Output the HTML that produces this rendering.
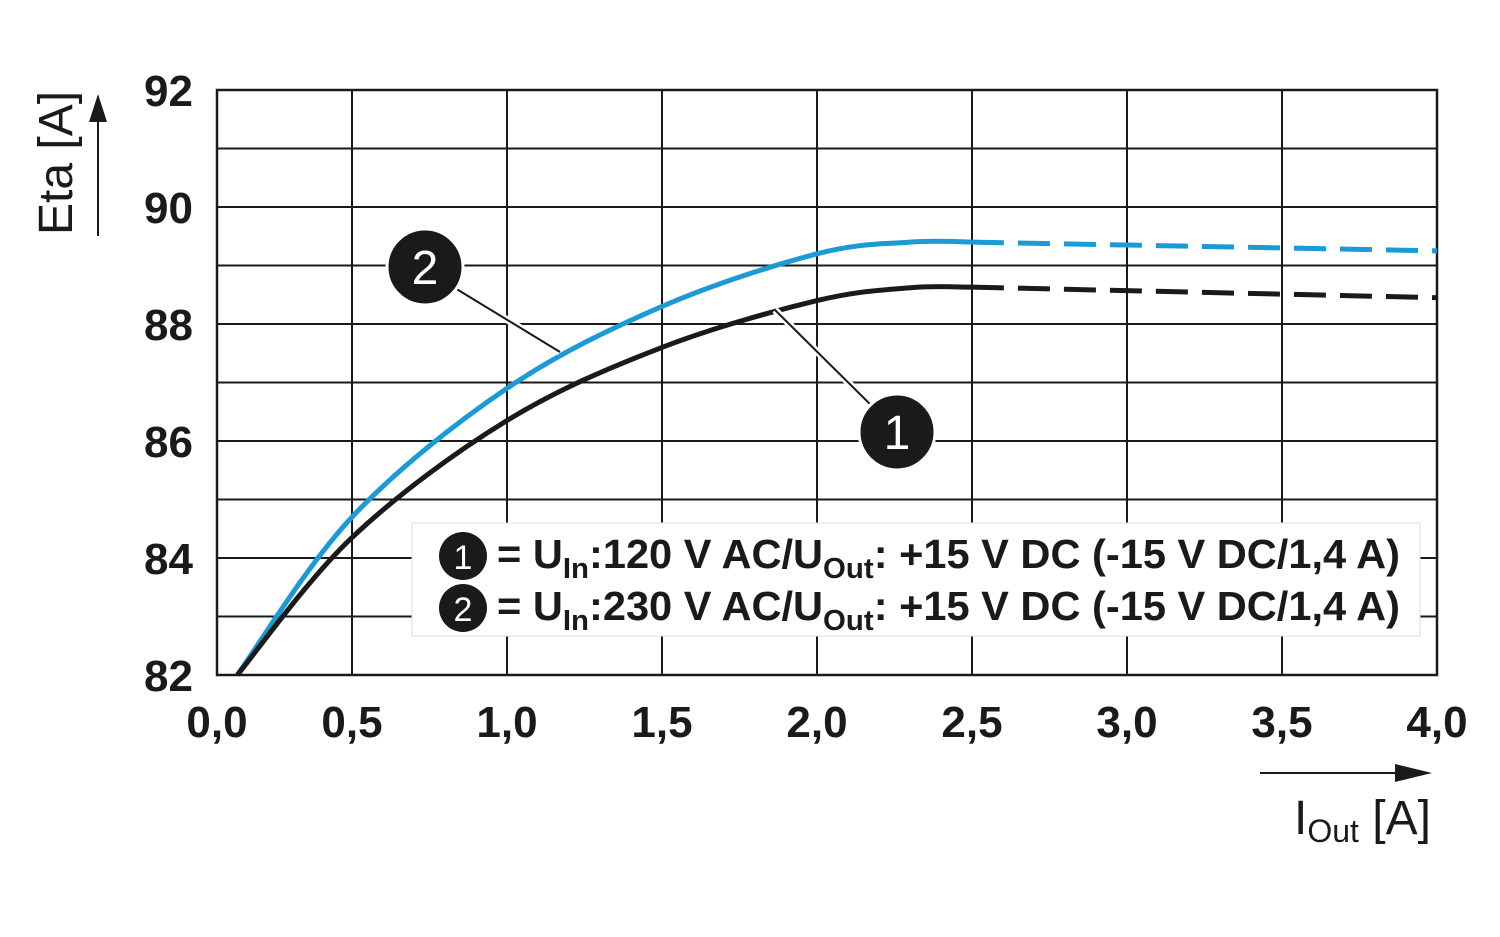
<!DOCTYPE html>
<html><head><meta charset="utf-8">
<style>
html,body{margin:0;padding:0;background:#fff;}
svg{display:block;font-family:"Liberation Sans",Arial,sans-serif;}
</style></head>
<body>
<svg id="chart" width="1500" height="937" viewBox="0 0 1500 937" xmlns="http://www.w3.org/2000/svg">
<g id="grid"></g>
<g id="ticks"></g>
<g id="series"></g>
<g>
  <text x="72" y="235" font-size="48" transform="rotate(-90 72 235)" fill="#1a1a1a">Eta [A]</text>
  <line x1="98" y1="236" x2="98" y2="115" stroke="#1a1a1a" stroke-width="2"/>
  <polygon points="98,94 89,122 107,122" fill="#1a1a1a"/>
</g>
<g>
  <line x1="1260" y1="773" x2="1405" y2="773" stroke="#1a1a1a" stroke-width="2"/>
  <polygon points="1432,773 1395,764 1395,782" fill="#1a1a1a"/>
  <text x="1294" y="834" font-size="48" fill="#1a1a1a">I<tspan font-size="32" dy="8">Out</tspan><tspan dy="-8"> [A]</tspan></text>
</g>
<g>
  <rect x="412" y="523" width="1008" height="113" fill="#fff" stroke="#ddd" stroke-width="1"/>
  <circle cx="463" cy="556" r="24" fill="#1a1a1a"/>
  <text x="463" y="569" font-size="34" fill="#fff" text-anchor="middle">1</text>
  <text x="497" y="568" font-size="41" font-weight="bold" fill="#1a1a1a" textLength="903" lengthAdjust="spacingAndGlyphs">= U<tspan font-size="29" dy="10">In</tspan><tspan dy="-10">:120 V AC/U</tspan><tspan font-size="29" dy="10">Out</tspan><tspan dy="-10">: +15 V DC (-15 V DC/1,4 A)</tspan></text>
  <circle cx="463" cy="608" r="24" fill="#1a1a1a"/>
  <text x="463" y="621" font-size="34" fill="#fff" text-anchor="middle">2</text>
  <text x="497" y="620" font-size="41" font-weight="bold" fill="#1a1a1a" textLength="903" lengthAdjust="spacingAndGlyphs">= U<tspan font-size="29" dy="10">In</tspan><tspan dy="-10">:230 V AC/U</tspan><tspan font-size="29" dy="10">Out</tspan><tspan dy="-10">: +15 V DC (-15 V DC/1,4 A)</tspan></text>
</g>
<g>
  <line x1="445" y1="282" x2="560" y2="352" stroke="#fff" stroke-width="7"/>
  <line x1="445" y1="282" x2="560" y2="352" stroke="#1a1a1a" stroke-width="2"/>
  <circle cx="425" cy="267" r="38" fill="#1a1a1a" stroke="#fff" stroke-width="3"/>
  <text x="425" y="284" font-size="48" fill="#fff" text-anchor="middle">2</text>
</g>
<g>
  <line x1="878" y1="412" x2="775" y2="310" stroke="#fff" stroke-width="7"/>
  <line x1="878" y1="412" x2="775" y2="310" stroke="#1a1a1a" stroke-width="2"/>
  <circle cx="897" cy="432" r="38" fill="#1a1a1a" stroke="#fff" stroke-width="3"/>
  <text x="897" y="449" font-size="48" fill="#fff" text-anchor="middle">1</text>
</g>
</svg>
<script>
const xTicks = [0.5,1.0,1.5,2.0,2.5,3.0,3.5,4.0];
const xTickLabels = ["0,5","1,0","1,5","2,0","2,5","3,0","3,5","4,0"];
const yTicks = [82,84,86,88,90,92];
const yTickLabels = ["82","84","86","88","90","92"];
const xVals = [0.13,0.5,1.0,1.5,2.0,2.3,2.5];
const s1Solid = [82,84.35,86.35,87.6,88.4,88.62,88.63];
const s2Solid = [82,84.7,86.9,88.3,89.2,89.4,89.4];
const xDash = [2.5,4.0];
const s1Dash = [88.63,88.45];
const s2Dash = [89.4,89.25];

const NS="http://www.w3.org/2000/svg";
const L=217,R=1437,T=90,B=675;
function x(v){return 352+(v-0.5)*310;}
function y(v){return 675-(v-82)*58.5;}
function mk(tag,attrs,parent){const e=document.createElementNS(NS,tag);for(const k in attrs)e.setAttribute(k,attrs[k]);parent.appendChild(e);return e;}
const grid=document.getElementById('grid'),ticks=document.getElementById('ticks'),series=document.getElementById('series');
for(let v=82;v<=92;v++){
  const l=mk('line',{x1:L,x2:R,y1:y(v),y2:y(v),stroke:'#1a1a1a','stroke-width':2},grid);
  
  
}
xTicks.forEach(v=>{
  const l=mk('line',{x1:x(v),x2:x(v),y1:T,y2:B,stroke:'#1a1a1a','stroke-width':2},grid);
  
  
});
const fr=mk('rect',{x:L,y:T,width:R-L,height:B-T,fill:'none',stroke:'#1a1a1a','stroke-width':2.5},grid);


const t0=mk('text',{x:L,y:737,'font-size':44,'font-weight':'bold','text-anchor':'middle',fill:'#1a1a1a'},ticks);
t0.textContent="0,0";


xTicks.forEach((v,i)=>{
  const t=mk('text',{x:x(v),y:737,'font-size':44,'font-weight':'bold','text-anchor':'middle',fill:'#1a1a1a'},ticks);
  t.textContent=xTickLabels[i];
  
  
});
yTicks.forEach((v,i)=>{
  const t=mk('text',{x:193,y:y(v)+16,'font-size':44,'font-weight':'bold','text-anchor':'end',fill:'#1a1a1a'},ticks);
  t.textContent=yTickLabels[i];
  
  
});
function smooth(xs,ys){
  const p=xs.map((v,i)=>[x(v),y(ys[i])]);
  let d=`M${p[0][0]},${p[0][1]}`;
  for(let i=0;i<p.length-1;i++){
    const p0=p[Math.max(0,i-1)],p1=p[i],p2=p[i+1],p3=p[Math.min(p.length-1,i+2)];
    const c1=[p1[0]+(p2[0]-p0[0])/6,p1[1]+(p2[1]-p0[1])/6];
    const c2=[p2[0]-(p3[0]-p1[0])/6,p2[1]-(p3[1]-p1[1])/6];
    d+=` C${c1[0]},${c1[1]} ${c2[0]},${c2[1]} ${p2[0]},${p2[1]}`;
  }
  return d;
}
const a=mk('path',{d:smooth(xVals,s2Solid),fill:'none',stroke:'#1a9ad6','stroke-width':5},series);


const b=mk('path',{d:smooth(xDash,s2Dash),fill:'none',stroke:'#1a9ad6','stroke-width':5,'stroke-dasharray':'32,14'},series);


const c=mk('path',{d:smooth(xVals,s1Solid),fill:'none',stroke:'#1a1a1a','stroke-width':5},series);


const e=mk('path',{d:smooth(xDash,s1Dash),fill:'none',stroke:'#1a1a1a','stroke-width':5,'stroke-dasharray':'32,14'},series);


</script>
</body></html>
